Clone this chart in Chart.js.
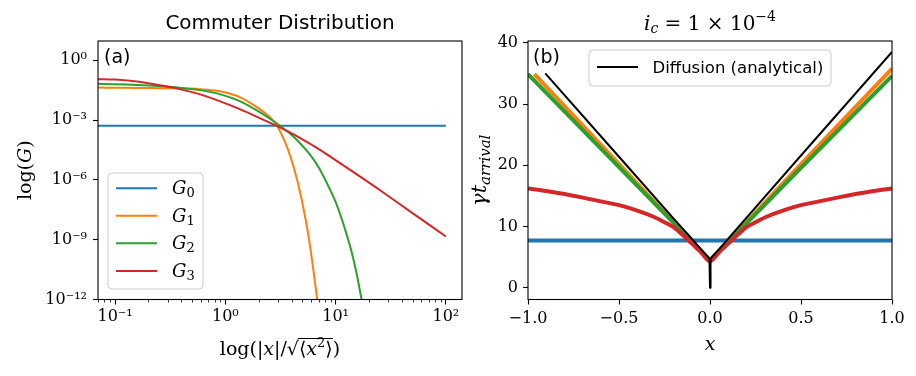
<!DOCTYPE html>
<html><head><meta charset="utf-8">
<script src="https://cdn.jsdelivr.net/npm/chart.js@4.4.0/dist/chart.umd.min.js"></script>
<style>
html,body{margin:0;padding:0;background:#fff;}
#wrap{position:relative;width:916px;height:376px;background:#fff;}
canvas{position:absolute;left:0;top:0;}
</style></head><body>
<div id="wrap"><canvas id="c1" width="916" height="376"></canvas><canvas id="c2" width="916" height="376"></canvas></div>
<script>
// ---------- Panel (a): commuter distribution (log-log) ----------
const seriesNames = ['G₀', 'G₁', 'G₂', 'G₃'];
const g0X = [0.07, 100];
const g0Y = [5.2e-4, 5.2e-4];
const g1X = [0.07, 0.1, 0.158, 0.263, 0.385, 0.583, 0.887, 1.35, 2.05, 2.53, 2.95, 3.47, 3.98, 4.57, 5.25, 5.89, 6.81, 7.41];
const g1Y = [0.0427, 0.0417, 0.0407, 0.0398, 0.0389, 0.0355, 0.0275, 0.0141, 0.00355, 0.00141, 5.01e-4, 7.94e-5, 1e-5, 6.31e-7, 1.78e-8, 3.98e-10, 1e-12, 2.51e-14];
const g2X = [0.07, 0.1, 0.158, 0.263, 0.385, 0.583, 0.887, 1.35, 2.05, 2.81, 3.85, 4.73, 5.83, 7.08, 8.57, 10, 11.35, 12.6, 13.96, 15.5, 17.2, 19.05];
const g2Y = [0.0653, 0.0631, 0.0575, 0.0490, 0.0417, 0.0316, 0.0200, 0.00891, 0.00251, 7.94e-4, 2.09e-4, 7.08e-5, 1.91e-5, 3.98e-6, 5.01e-7, 7.94e-8, 1.12e-8, 1.78e-9, 2.51e-10, 2.0e-11, 1e-12, 5.0e-14];
const g3X = [0.07, 0.1, 0.158, 0.263, 0.385, 0.583, 0.887, 1.35, 2.05, 2.81, 3.85, 5.01, 6.31, 8.87, 15.8, 25.3, 50.1, 100];
const g3Y = [0.112, 0.107, 0.0851, 0.0537, 0.0355, 0.0200, 0.00891, 0.00355, 0.00126, 5.62e-4, 2.40e-4, 1.05e-4, 5.01e-5, 1.51e-5, 1.78e-6, 3.02e-7, 2.09e-8, 1.45e-9];
const leftXTicks = [0.1, 1, 10, 100];
const leftYTicks = [1e-12, 1e-9, 1e-6, 1e-3, 1];

// ---------- Panel (b): arrival time ----------
const arrB0X = [-1, 1];
const arrB0Y = [7.7, 7.7];
const arrB1X = [-0.965, -0.5, -0.2, -0.1, -0.05, 0, 0.05, 0.1, 0.2, 0.5, 1.0];
const arrB1Y = [34.9, 20.2, 10.7, 7.6, 6.0, 4.5, 6.0, 7.6, 10.7, 20.2, 35.8];
const arrB2X = [-1, -0.5, -0.2, -0.1, -0.05, 0, 0.05, 0.1, 0.2, 0.5, 1.0];
const arrB2Y = [34.9, 19.7, 10.6, 7.5, 6.0, 4.5, 6.0, 7.5, 10.5, 19.6, 34.6];
const arrB3X = [-1, -0.9, -0.8, -0.68, -0.6, -0.5, -0.4, -0.31, -0.25, -0.2, -0.15, -0.1, -0.05, 0, 0.05, 0.1, 0.15, 0.2, 0.25, 0.31, 0.4, 0.5, 0.6, 0.68, 0.8, 0.9, 1];
const arrB3Y = [16.2, 15.8, 15.3, 14.6, 14.1, 13.5, 12.6, 11.6, 10.7, 9.9, 8.6, 7.2, 5.8, 4.3, 5.8, 7.2, 8.6, 9.9, 10.7, 11.6, 12.6, 13.5, 14.1, 14.6, 15.3, 15.8, 16.2];
const diffX = [-0.905, -0.5, -0.2, -0.1, -0.05, -0.003, 0, 0.003, 0.05, 0.1, 0.2, 0.5, 1.0];
const diffY = [35.0, 21.4, 11.3, 8.0, 6.3, 4.75, 0, 4.75, 6.3, 8.0, 11.4, 21.6, 38.5];
const diffLabel = 'Diffusion (analytical)';
const rightXTicks = [-1, -0.5, 0, 0.5, 1];
const rightYTicks = [0, 10, 20, 30, 40];

const C = ['#1f77b4', '#ff7f0e', '#2ca02c', '#d62728'];
const SERIF = '"DejaVu Serif", "Liberation Serif", serif';
const SANS = '"DejaVu Sans", sans-serif';
const zip = (xs, ys) => xs.map((x, i) => ({x: x, y: ys[i]}));
const SUP = {'-': '⁻', '0': '⁰', '1': '¹', '2': '²', '3': '³', '4': '⁴', '5': '⁵', '6': '⁶', '7': '⁷', '8': '⁸', '9': '⁹'};
const SUBD = {'₀': '0', '₁': '1', '₂': '2', '₃': '3'};
function pow10Label(v) {
  const e = Math.round(Math.log10(v));
  return '10' + String(e).split('').map(c => SUP[c]).join('');
}
function fmtMinus(v, d) { const s = v.toFixed(d); return s.replace('-', '−'); }

function rich(ctx, parts, x, y, align) {
  let w = 0;
  parts.forEach(p => { ctx.font = p.f; p.w = ctx.measureText(p.t).width; w += p.w; });
  let cx = align === 'center' ? x - w / 2 : (align === 'right' ? x - w : x);
  ctx.textAlign = 'left'; ctx.textBaseline = 'alphabetic';
  parts.forEach(p => { ctx.font = p.f; ctx.fillText(p.t, cx, y + (p.dy || 0)); p.x = cx; cx += p.w; });
  return parts;
}
function roundRect(ctx, x, y, w, h, r) {
  ctx.beginPath();
  ctx.moveTo(x + r, y); ctx.lineTo(x + w - r, y); ctx.quadraticCurveTo(x + w, y, x + w, y + r);
  ctx.lineTo(x + w, y + h - r); ctx.quadraticCurveTo(x + w, y + h, x + w - r, y + h);
  ctx.lineTo(x + r, y + h); ctx.quadraticCurveTo(x, y + h, x, y + h - r);
  ctx.lineTo(x, y + r); ctx.quadraticCurveTo(x, y, x + r, y); ctx.closePath();
}
function frame(ctx, a) {
  ctx.save(); ctx.strokeStyle = '#000'; ctx.lineWidth = 1.1;
  ctx.strokeRect(a.left, a.top, a.right - a.left, a.bottom - a.top); ctx.restore();
}
function tickGrid() {
  return {drawOnChartArea: false, drawTicks: true, tickLength: 5, tickColor: '#000', tickWidth: 1.1};
}
function tickOpts(cb, pad) {
  return {autoSkip: false, maxRotation: 0, minRotation: 0, padding: pad, color: '#000', font: {family: SERIF, size: 16}, callback: cb};
}
const baseOpts = {
  responsive: false, animation: false, devicePixelRatio: 1,
  plugins: {legend: {display: false}, tooltip: {enabled: false}, title: {display: false}},
  elements: {point: {radius: 0}, line: {tension: 0.3, borderJoinStyle: 'round', borderCapStyle: 'butt'}}
};

const extrasA = {
  id: 'extrasA',
  afterDraw(chart) {
    const ctx = chart.ctx, a = chart.chartArea, xs = chart.scales.x;
    ctx.save();
    ctx.fillStyle = '#000'; ctx.strokeStyle = '#000';
    ctx.lineWidth = 0.8;
    for (let k = -2; k <= 2; k++) for (let m = 2; m <= 9; m++) {
      const v = m * Math.pow(10, k);
      if (v < xs.min || v > xs.max) continue;
      const px = Math.round(xs.getPixelForValue(v)) + 0.5;
      ctx.beginPath(); ctx.moveTo(px, a.bottom); ctx.lineTo(px, a.bottom + 3); ctx.stroke();
    }
    frame(ctx, a);
    ctx.font = `20px ${SANS}`; ctx.textAlign = 'center'; ctx.textBaseline = 'alphabetic';
    ctx.fillText('Commuter Distribution', (a.left + a.right) / 2, 29);
    ctx.font = `19px ${SANS}`; ctx.textAlign = 'left';
    ctx.fillText('(a)', a.left + 6, 63);
    const it = `italic 19px ${SERIF}`, rm = `19px ${SERIF}`, sm = `13px ${SERIF}`;
    const xp = rich(ctx, [
      {t: 'log(|', f: rm}, {t: 'x', f: it}, {t: '|/', f: rm}, {t: '√', f: rm},
      {t: '⟨', f: rm}, {t: 'x', f: it}, {t: '2', f: sm, dy: -8}, {t: '⟩', f: rm}, {t: ')', f: rm}
    ], (a.left + a.right) / 2, 355, 'center');
    ctx.lineWidth = 1;
    ctx.beginPath(); ctx.moveTo(xp[3].x + xp[3].w - 1, 338.5); ctx.lineTo(xp[7].x + xp[7].w, 338.5); ctx.stroke();
    ctx.save(); ctx.translate(31, (a.top + a.bottom) / 2); ctx.rotate(-Math.PI / 2);
    rich(ctx, [{t: 'log(', f: rm}, {t: 'G', f: it}, {t: ')', f: rm}], 0, 0, 'center');
    ctx.restore();
    ctx.fillStyle = 'rgba(255,255,255,0.8)'; ctx.strokeStyle = '#cccccc'; ctx.lineWidth = 1;
    roundRect(ctx, 108, 173, 95, 116, 4); ctx.fill(); ctx.stroke();
    const rows = [188.3, 215.7, 243.3, 271];
    chart.data.datasets.forEach((ds, i) => {
      ctx.strokeStyle = ds.borderColor; ctx.lineWidth = 2;
      ctx.beginPath(); ctx.moveTo(116, rows[i]); ctx.lineTo(157, rows[i]); ctx.stroke();
      ctx.fillStyle = '#000';
      const lab = ds.label;
      rich(ctx, [{t: lab[0], f: `italic 18px ${SERIF}`}, {t: SUBD[lab[1]], f: sm, dy: 3}], 172, rows[i] + 6, 'left');
    });
    ctx.restore();
  }
};

new Chart(document.getElementById('c1'), {
  type: 'line',
  data: {datasets: [
    {label: seriesNames[0], data: zip(g0X, g0Y), borderColor: C[0], borderWidth: 2, order: 4, clip: 0, tension: 0},
    {label: seriesNames[1], data: zip(g1X, g1Y), borderColor: C[1], borderWidth: 2, order: 3, clip: 0},
    {label: seriesNames[2], data: zip(g2X, g2Y), borderColor: C[2], borderWidth: 2, order: 2, clip: 0},
    {label: seriesNames[3], data: zip(g3X, g3Y), borderColor: C[3], borderWidth: 2, order: 1, clip: 0}
  ]},
  options: Object.assign({}, baseOpts, {
    layout: {padding: {left: 0, top: 41, right: 454, bottom: 0}},
    scales: {
      x: {type: 'logarithmic', min: 0.07, max: 140,
        afterFit(s) { s.height = 76.5; },
        afterBuildTicks(s) { s.ticks = leftXTicks.map(v => ({value: v})); },
        grid: tickGrid(), border: {display: false},
        ticks: tickOpts(v => pow10Label(v), 3)},
      y: {type: 'logarithmic', min: 1e-12, max: 9.2,
        afterFit(s) { s.width = 98; },
        afterBuildTicks(s) { s.ticks = leftYTicks.map(v => ({value: v})); },
        grid: tickGrid(), border: {display: false},
        ticks: tickOpts(v => pow10Label(v), 6)}
    }
  }),
  plugins: [extrasA]
});

const extrasB = {
  id: 'extrasB',
  afterDraw(chart) {
    const ctx = chart.ctx, a = chart.chartArea;
    ctx.save();
    ctx.fillStyle = '#000';
    frame(ctx, a);
    const cx = (a.left + a.right) / 2;
    rich(ctx, [
      {t: 'i', f: `italic 20px ${SERIF}`}, {t: 'c', f: `italic 14px ${SERIF}`, dy: 3},
      {t: ' = 1 × 10', f: `20px ${SERIF}`}, {t: '−4', f: `14px ${SERIF}`, dy: -9}
    ], cx, 30, 'center');
    ctx.font = `19px ${SANS}`; ctx.textAlign = 'left';
    ctx.fillText('(b)', a.left + 5, 63);
    rich(ctx, [{t: 'x', f: `italic 19px ${SERIF}`}], cx, 350, 'center');
    ctx.save(); ctx.translate(486, (a.top + a.bottom) / 2); ctx.rotate(-Math.PI / 2);
    rich(ctx, [{t: 'γt', f: `italic 21px ${SERIF}`}, {t: 'arrival', f: `italic 15px ${SERIF}`, dy: 4}], 0, 0, 'center');
    ctx.restore();
    ctx.fillStyle = 'rgba(255,255,255,0.8)'; ctx.strokeStyle = '#cccccc'; ctx.lineWidth = 1;
    roundRect(ctx, 589, 50, 242, 36, 4); ctx.fill(); ctx.stroke();
    ctx.strokeStyle = '#000'; ctx.lineWidth = 2;
    ctx.beginPath(); ctx.moveTo(597, 67); ctx.lineTo(638, 67); ctx.stroke();
    ctx.fillStyle = '#000'; ctx.font = `16.5px ${SANS}`; ctx.textAlign = 'left'; ctx.textBaseline = 'alphabetic';
    ctx.fillText(diffLabel, 652.5, 73);
    ctx.restore();
  }
};

new Chart(document.getElementById('c2'), {
  type: 'line',
  data: {datasets: [
    {label: seriesNames[0], data: zip(arrB0X, arrB0Y), borderColor: C[0], borderWidth: 4, order: 5, clip: 0, tension: 0},
    {label: seriesNames[1], data: zip(arrB1X, arrB1Y), borderColor: C[1], borderWidth: 4, order: 4, clip: 0, tension: 0},
    {label: seriesNames[2], data: zip(arrB2X, arrB2Y), borderColor: C[2], borderWidth: 4, order: 3, clip: 0, tension: 0},
    {label: seriesNames[3], data: zip(arrB3X, arrB3Y), borderColor: C[3], borderWidth: 4, order: 2, clip: 0, tension: 0.3},
    {label: diffLabel, data: zip(diffX, diffY), borderColor: '#000', borderWidth: 2, order: 1, clip: 0, tension: 0}
  ]},
  options: Object.assign({}, baseOpts, {
    layout: {padding: {left: 0, top: 41, right: 24, bottom: 0}},
    scales: {
      x: {type: 'linear', min: -1, max: 1,
        afterFit(s) { s.height = 76.5; },
        afterBuildTicks(s) { s.ticks = rightXTicks.map(v => ({value: v})); },
        grid: tickGrid(), border: {display: false},
        ticks: tickOpts(v => fmtMinus(v, 1), 5)},
      y: {type: 'linear', min: -1.92, max: 40.3,
        afterFit(s) { s.width = 528; },
        afterBuildTicks(s) { s.ticks = rightYTicks.map(v => ({value: v})); },
        grid: tickGrid(), border: {display: false},
        ticks: tickOpts(v => String(v), 5)}
    }
  }),
  plugins: [extrasB]
});
</script>
</body></html>
